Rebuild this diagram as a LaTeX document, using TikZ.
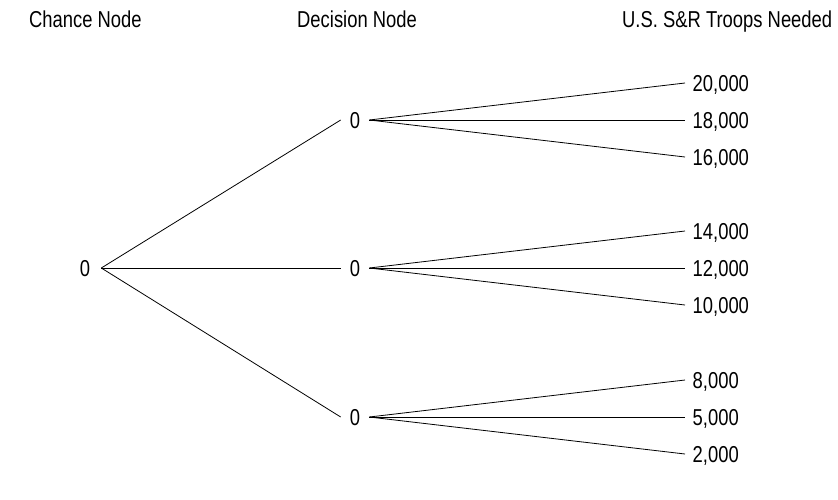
\documentclass[tikz,border=0pt]{standalone}
\usepackage{fontspec}
\setmainfont{Liberation Sans}[FakeStretch=0.8]
\begin{document}
\begin{tikzpicture}[x=1pt,y=-1pt,
  every node/.style={font=\fontsize{23}{27}\selectfont, inner ysep=0pt, text depth=0pt},
  header/.style={anchor=base west, inner sep=0pt},
  zero/.style={inner xsep=9pt},
  outcome/.style={anchor=west, inner xsep=7.5pt},
  branch/.style={line width=0.8pt}]
\useasboundingbox (0,0) rectangle (838,499);
% headers
\node[header] (h1) at (29,27) {Chance Node};
\node[header] (h2) at (297,27) {Decision Node};
\node[header] (h3) at (622,27) {U.S. S\&R Troops Needed};
% chance node
\node[zero, inner xsep=11pt] (c) at (85,268) {0};
% decision nodes
\node[zero] (d1) at (355,120) {0};
\node[zero] (d2) at (355,268) {0};
\node[zero] (d3) at (355,417) {0};
% outcomes
\node[outcome] (o1) at (685,83) {20,000};
\node[outcome] (o2) at (685,120) {18,000};
\node[outcome] (o3) at (685,157) {16,000};
\node[outcome] (o4) at (685,231) {14,000};
\node[outcome] (o5) at (685,268) {12,000};
\node[outcome] (o6) at (685,305) {10,000};
\node[outcome] (o7) at (685,380) {8,000};
\node[outcome] (o8) at (685,417) {5,000};
\node[outcome] (o9) at (685,454) {2,000};
% connectors
\draw[branch] (c.east) -- (d1.west);
\draw[branch] (c.east) -- (d2.west);
\draw[branch] (c.east) -- (d3.west);
\draw[branch] (d1.east) -- (o1.west);
\draw[branch] (d1.east) -- (o2.west);
\draw[branch] (d1.east) -- (o3.west);
\draw[branch] (d2.east) -- (o4.west);
\draw[branch] (d2.east) -- (o5.west);
\draw[branch] (d2.east) -- (o6.west);
\draw[branch] (d3.east) -- (o7.west);
\draw[branch] (d3.east) -- (o8.west);
\draw[branch] (d3.east) -- (o9.west);
\end{tikzpicture}
\end{document}
